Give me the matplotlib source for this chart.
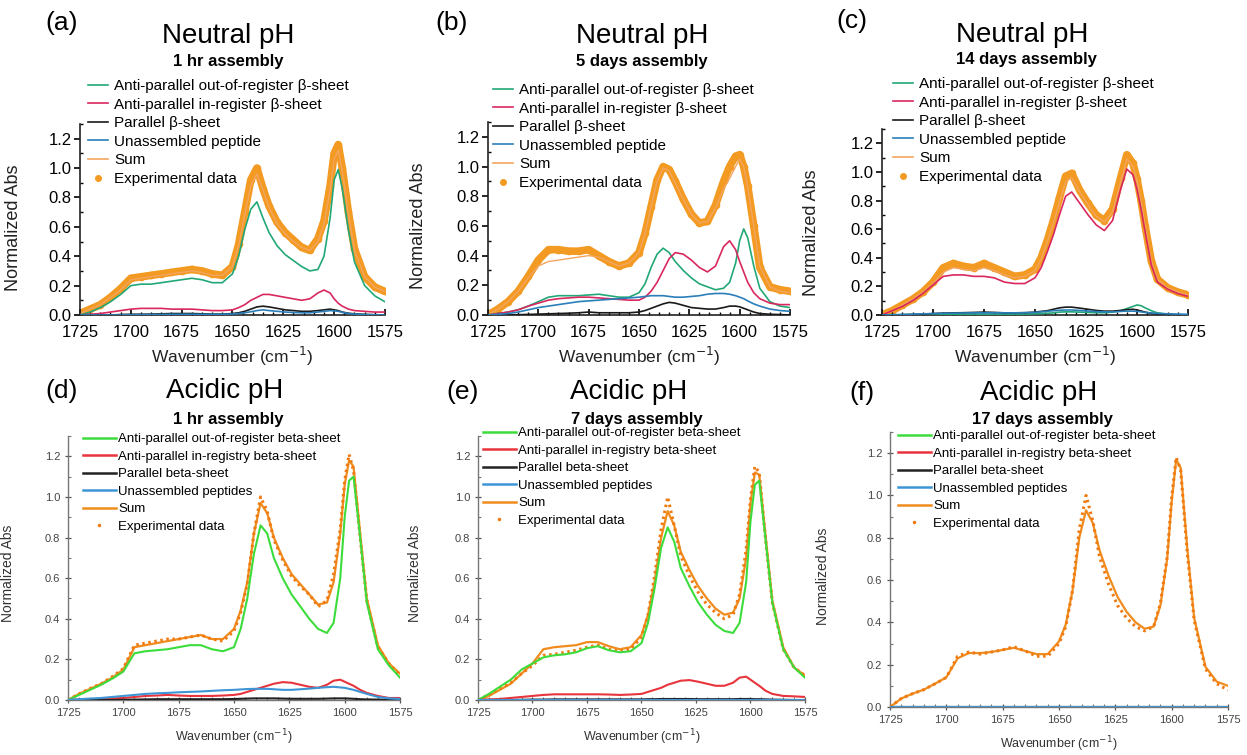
import matplotlib
matplotlib.use('Agg')
import matplotlib.pyplot as plt
from matplotlib.ticker import MultipleLocator
from matplotlib.lines import Line2D

plt.rcParams['font.family'] = ['Liberation Sans', 'DejaVu Sans']

# wavenumber grid (cm^-1) shared by all panels
wn = [1725, 1720, 1715, 1710, 1705, 1700, 1695, 1690, 1685, 1680, 1675, 1670,
      1665, 1660, 1655, 1650, 1647, 1644, 1641, 1638, 1635, 1632, 1628, 1624,
      1620, 1616, 1612, 1608, 1605, 1602, 1600, 1598, 1596, 1593, 1590, 1585,
      1580, 1575]

# (a) neutral, 1 hr
exp_a = [0.01, 0.04, 0.07, 0.12, 0.18, 0.25, 0.26, 0.27, 0.28, 0.29, 0.30, 0.31,
         0.30, 0.28, 0.27, 0.33, 0.48, 0.70, 0.92, 1.00, 0.86, 0.74, 0.63, 0.56,
         0.51, 0.46, 0.44, 0.52, 0.64, 0.88, 1.10, 1.16, 1.00, 0.70, 0.45, 0.26,
         0.19, 0.16]
sum_a = [0.01, 0.04, 0.07, 0.12, 0.17, 0.24, 0.25, 0.26, 0.27, 0.28, 0.29, 0.30,
         0.29, 0.27, 0.27, 0.33, 0.47, 0.68, 0.88, 0.96, 0.85, 0.73, 0.62, 0.55,
         0.50, 0.46, 0.44, 0.50, 0.62, 0.85, 1.06, 1.12, 0.98, 0.69, 0.44, 0.26,
         0.19, 0.16]
green_a = [0.00, 0.02, 0.05, 0.09, 0.14, 0.20, 0.21, 0.21, 0.22, 0.23, 0.24, 0.25,
           0.24, 0.22, 0.22, 0.28, 0.40, 0.58, 0.72, 0.77, 0.66, 0.56, 0.47, 0.41,
           0.37, 0.33, 0.30, 0.31, 0.40, 0.66, 0.92, 0.99, 0.86, 0.58, 0.36, 0.20,
           0.13, 0.09]
red_a = [0.00, 0.005, 0.01, 0.02, 0.03, 0.04, 0.045, 0.045, 0.045, 0.04, 0.04, 0.04,
         0.035, 0.03, 0.03, 0.035, 0.05, 0.07, 0.10, 0.12, 0.14, 0.14, 0.13, 0.12,
         0.11, 0.10, 0.11, 0.15, 0.17, 0.15, 0.11, 0.08, 0.06, 0.04, 0.03, 0.025,
         0.02, 0.02]
black_a = [0.0, 0.0, 0.0, 0.0, 0.003, 0.005, 0.005, 0.006, 0.008, 0.01, 0.01, 0.01,
           0.008, 0.006, 0.006, 0.01, 0.015, 0.025, 0.04, 0.055, 0.06, 0.055, 0.045, 0.035,
           0.03, 0.025, 0.025, 0.03, 0.035, 0.04, 0.035, 0.03, 0.02, 0.012, 0.008, 0.004,
           0.002, 0.0]
blue_a = [0.0, 0.0, 0.0, 0.0, 0.0, 0.002, 0.003, 0.004, 0.004, 0.005, 0.005, 0.005,
          0.005, 0.005, 0.005, 0.007, 0.01, 0.015, 0.022, 0.03, 0.035, 0.03, 0.025, 0.02,
          0.017, 0.015, 0.015, 0.02, 0.025, 0.03, 0.028, 0.025, 0.018, 0.01, 0.006, 0.003,
          0.001, 0.0]

# (b) neutral, 5 days
exp_b = [0.00, 0.04, 0.09, 0.16, 0.26, 0.37, 0.44, 0.44, 0.43, 0.43, 0.44, 0.40,
         0.36, 0.33, 0.35, 0.42, 0.55, 0.73, 0.91, 1.00, 0.98, 0.90, 0.78, 0.68,
         0.62, 0.63, 0.74, 0.90, 1.00, 1.07, 1.08, 1.00, 0.87, 0.60, 0.32, 0.19,
         0.17, 0.16]
sum_b = [0.00, 0.04, 0.09, 0.16, 0.25, 0.33, 0.36, 0.37, 0.38, 0.39, 0.40, 0.39,
         0.36, 0.33, 0.35, 0.42, 0.55, 0.73, 0.90, 0.99, 0.97, 0.89, 0.78, 0.68,
         0.62, 0.63, 0.72, 0.85, 0.92, 1.00, 1.05, 1.00, 0.86, 0.60, 0.33, 0.19,
         0.16, 0.15]
green_b = [0.00, 0.01, 0.02, 0.035, 0.06, 0.09, 0.12, 0.13, 0.13, 0.13, 0.135, 0.14,
           0.13, 0.12, 0.12, 0.15, 0.21, 0.32, 0.41, 0.45, 0.42, 0.36, 0.30, 0.25,
           0.21, 0.19, 0.17, 0.18, 0.22, 0.35, 0.50, 0.58, 0.52, 0.33, 0.18, 0.09,
           0.06, 0.05]
red_b = [0.00, 0.01, 0.02, 0.035, 0.06, 0.08, 0.10, 0.11, 0.115, 0.12, 0.12, 0.115,
         0.11, 0.105, 0.10, 0.10, 0.12, 0.16, 0.22, 0.30, 0.38, 0.42, 0.41, 0.37,
         0.32, 0.29, 0.33, 0.46, 0.50, 0.44, 0.36, 0.29, 0.22, 0.15, 0.11, 0.08,
         0.07, 0.07]
black_b = [0.0, 0.0, 0.0, 0.002, 0.004, 0.006, 0.008, 0.01, 0.012, 0.015, 0.02, 0.015,
           0.015, 0.015, 0.015, 0.02, 0.03, 0.045, 0.06, 0.075, 0.085, 0.08, 0.065, 0.05,
           0.045, 0.04, 0.04, 0.05, 0.06, 0.06, 0.055, 0.045, 0.035, 0.02, 0.01, 0.005,
           0.003, 0.0]
blue_b = [0.00, 0.005, 0.01, 0.02, 0.035, 0.05, 0.06, 0.07, 0.08, 0.09, 0.095, 0.10,
          0.105, 0.11, 0.115, 0.12, 0.125, 0.13, 0.13, 0.13, 0.125, 0.12, 0.12, 0.125,
          0.13, 0.14, 0.145, 0.145, 0.14, 0.13, 0.12, 0.11, 0.095, 0.075, 0.06, 0.04,
          0.03, 0.025]

# (c) neutral, 14 days
exp_c = [0.00, 0.03, 0.07, 0.11, 0.16, 0.23, 0.33, 0.36, 0.34, 0.33, 0.36, 0.33,
         0.30, 0.27, 0.28, 0.32, 0.40, 0.52, 0.66, 0.82, 0.97, 0.99, 0.87, 0.78,
         0.70, 0.66, 0.74, 0.96, 1.12, 1.06, 0.95, 0.80, 0.62, 0.38, 0.25, 0.19,
         0.16, 0.14]
sum_c = [0.00, 0.03, 0.07, 0.11, 0.16, 0.22, 0.30, 0.33, 0.32, 0.31, 0.33, 0.31,
         0.28, 0.26, 0.27, 0.31, 0.39, 0.51, 0.64, 0.79, 0.93, 0.96, 0.86, 0.77,
         0.69, 0.65, 0.72, 0.93, 1.09, 1.04, 0.94, 0.79, 0.62, 0.38, 0.25, 0.19,
         0.16, 0.14]
green_c = [0.0, 0.0, 0.0, 0.0, 0.002, 0.004, 0.005, 0.006, 0.006, 0.006, 0.006, 0.006,
           0.006, 0.006, 0.006, 0.008, 0.01, 0.012, 0.015, 0.02, 0.022, 0.022, 0.02, 0.018,
           0.016, 0.016, 0.02, 0.03, 0.045, 0.06, 0.07, 0.065, 0.05, 0.03, 0.015, 0.006,
           0.003, 0.0]
red_c = [0.00, 0.03, 0.06, 0.10, 0.15, 0.21, 0.27, 0.28, 0.28, 0.27, 0.27, 0.26,
         0.23, 0.22, 0.22, 0.26, 0.33, 0.44, 0.56, 0.70, 0.83, 0.86, 0.78, 0.70,
         0.63, 0.59, 0.66, 0.88, 1.02, 0.98, 0.88, 0.74, 0.58, 0.35, 0.23, 0.18,
         0.15, 0.13]
black_c = [0.0, 0.0, 0.002, 0.004, 0.006, 0.01, 0.013, 0.015, 0.016, 0.018, 0.02, 0.018,
           0.015, 0.015, 0.016, 0.02, 0.025, 0.03, 0.04, 0.05, 0.055, 0.055, 0.048, 0.04,
           0.032, 0.027, 0.027, 0.032, 0.037, 0.04, 0.035, 0.028, 0.02, 0.012, 0.007, 0.003,
           0.001, 0.0]
blue_c = [0.0, 0.002, 0.004, 0.006, 0.008, 0.01, 0.012, 0.013, 0.014, 0.015, 0.015, 0.015,
          0.015, 0.015, 0.016, 0.018, 0.022, 0.026, 0.03, 0.033, 0.035, 0.035, 0.032, 0.028,
          0.024, 0.022, 0.022, 0.025, 0.027, 0.027, 0.025, 0.022, 0.018, 0.014, 0.011, 0.008,
          0.006, 0.005]

# (d) acidic, 1 hr
exp_d = [0.00, 0.03, 0.057, 0.08, 0.115, 0.155, 0.27, 0.28, 0.29, 0.30, 0.30, 0.31,
         0.32, 0.30, 0.29, 0.34, 0.43, 0.57, 0.82, 1.00, 0.93, 0.79, 0.69, 0.61,
         0.56, 0.52, 0.46, 0.49, 0.62, 0.84, 1.08, 1.21, 1.13, 0.80, 0.49, 0.26,
         0.18, 0.12]
sum_d = [0.00, 0.03, 0.055, 0.08, 0.11, 0.15, 0.26, 0.27, 0.28, 0.29, 0.30, 0.31,
         0.32, 0.30, 0.30, 0.35, 0.44, 0.58, 0.82, 0.97, 0.92, 0.80, 0.70, 0.62,
         0.57, 0.52, 0.47, 0.48, 0.58, 0.82, 1.06, 1.18, 1.15, 0.82, 0.50, 0.27,
         0.18, 0.13]
green_d = [0.00, 0.025, 0.05, 0.075, 0.105, 0.14, 0.23, 0.24, 0.245, 0.25, 0.26, 0.27,
           0.27, 0.25, 0.24, 0.26, 0.35, 0.50, 0.72, 0.86, 0.82, 0.70, 0.60, 0.52,
           0.46, 0.40, 0.35, 0.33, 0.38, 0.60, 0.90, 1.08, 1.10, 0.80, 0.48, 0.25,
           0.17, 0.11]
red_d = [0.00, 0.002, 0.003, 0.005, 0.008, 0.01, 0.015, 0.02, 0.022, 0.025, 0.022, 0.02,
         0.02, 0.02, 0.022, 0.025, 0.03, 0.04, 0.05, 0.06, 0.07, 0.08, 0.088, 0.085,
         0.075, 0.065, 0.06, 0.075, 0.095, 0.10, 0.09, 0.08, 0.07, 0.05, 0.035, 0.02,
         0.01, 0.01]
black_d = [0.0, 0.0, 0.0, 0.0, 0.0, 0.001, 0.002, 0.003, 0.004, 0.004, 0.004, 0.004,
           0.004, 0.004, 0.004, 0.005, 0.006, 0.007, 0.008, 0.008, 0.008, 0.008, 0.007, 0.006,
           0.006, 0.006, 0.006, 0.007, 0.008, 0.008, 0.008, 0.007, 0.006, 0.004, 0.003, 0.002,
           0.001, 0.0]
blue_d = [0.00, 0.004, 0.007, 0.01, 0.015, 0.02, 0.025, 0.03, 0.033, 0.035, 0.038, 0.04,
          0.042, 0.045, 0.048, 0.05, 0.052, 0.054, 0.055, 0.055, 0.055, 0.053, 0.05, 0.05,
          0.053, 0.056, 0.06, 0.063, 0.065, 0.062, 0.06, 0.055, 0.05, 0.04, 0.03, 0.015,
          0.008, 0.005]

# (e) acidic, 7 days
exp_e = [0.00, 0.025, 0.055, 0.085, 0.13, 0.17, 0.22, 0.225, 0.235, 0.245, 0.26, 0.27,
         0.25, 0.24, 0.25, 0.31, 0.42, 0.61, 0.84, 1.00, 0.86, 0.71, 0.61, 0.53,
         0.47, 0.43, 0.40, 0.42, 0.52, 0.74, 0.99, 1.15, 1.12, 0.78, 0.48, 0.25,
         0.16, 0.12]
sum_e = [0.00, 0.02, 0.05, 0.08, 0.13, 0.18, 0.25, 0.26, 0.265, 0.27, 0.285, 0.285,
         0.265, 0.25, 0.26, 0.32, 0.42, 0.58, 0.80, 0.93, 0.86, 0.73, 0.64, 0.56,
         0.50, 0.45, 0.42, 0.43, 0.50, 0.70, 0.97, 1.12, 1.11, 0.80, 0.49, 0.26,
         0.16, 0.12]
green_e = [0.00, 0.03, 0.065, 0.10, 0.15, 0.18, 0.21, 0.22, 0.225, 0.235, 0.255, 0.265,
           0.245, 0.235, 0.24, 0.28, 0.38, 0.55, 0.75, 0.85, 0.78, 0.65, 0.56, 0.48,
           0.42, 0.37, 0.34, 0.33, 0.38, 0.58, 0.88, 1.06, 1.08, 0.78, 0.48, 0.25,
           0.16, 0.11]
red_e = [0.00, 0.003, 0.005, 0.01, 0.015, 0.02, 0.025, 0.028, 0.028, 0.028, 0.028, 0.028,
         0.027, 0.025, 0.027, 0.03, 0.04, 0.05, 0.06, 0.075, 0.085, 0.095, 0.098, 0.09,
         0.08, 0.07, 0.07, 0.085, 0.11, 0.115, 0.10, 0.085, 0.07, 0.045, 0.03, 0.02,
         0.018, 0.015]
black_e = [0.0, 0.0, 0.0, 0.0, 0.001, 0.002, 0.002, 0.003, 0.003, 0.003, 0.003, 0.003,
           0.003, 0.003, 0.003, 0.003, 0.004, 0.004, 0.005, 0.005, 0.005, 0.005, 0.005, 0.004,
           0.004, 0.004, 0.004, 0.004, 0.005, 0.005, 0.005, 0.004, 0.004, 0.003, 0.002, 0.001,
           0.0, 0.0]
blue_e = [0.0, 0.0, 0.0, 0.0, 0.0, 0.0, 0.0, 0.0, 0.0, 0.0, 0.0, 0.0,
          0.0, 0.0, 0.0, 0.0, 0.0, 0.0, 0.0, 0.0, 0.0, 0.0, 0.0, 0.0,
          0.0, 0.0, 0.0, 0.0, 0.0, 0.0, 0.0, 0.0, 0.0, 0.0, 0.0, 0.0,
          0.0, 0.0]

# (f) acidic, 17 days
exp_f = [0.00, 0.04, 0.063, 0.082, 0.11, 0.14, 0.24, 0.26, 0.25, 0.26, 0.27, 0.285,
         0.265, 0.24, 0.24, 0.30, 0.38, 0.55, 0.84, 1.00, 0.88, 0.71, 0.58, 0.48,
         0.42, 0.38, 0.36, 0.38, 0.49, 0.71, 0.99, 1.18, 1.12, 0.72, 0.41, 0.18,
         0.11, 0.08]
sum_f = [0.00, 0.04, 0.063, 0.082, 0.11, 0.14, 0.23, 0.255, 0.255, 0.26, 0.27, 0.28,
         0.265, 0.25, 0.25, 0.31, 0.39, 0.55, 0.80, 0.93, 0.87, 0.74, 0.62, 0.52,
         0.45, 0.40, 0.37, 0.38, 0.48, 0.70, 0.97, 1.17, 1.13, 0.74, 0.42, 0.19,
         0.12, 0.10]
green_f = [0.0, 0.0, 0.0, 0.0, 0.0, 0.0, 0.0, 0.0, 0.0, 0.0, 0.0, 0.0,
           0.0, 0.0, 0.0, 0.0, 0.0, 0.0, 0.0, 0.0, 0.0, 0.0, 0.0, 0.0,
           0.0, 0.0, 0.0, 0.0, 0.0, 0.0, 0.0, 0.0, 0.0, 0.0, 0.0, 0.0,
           0.0, 0.0]
red_f = [0.0, 0.0, 0.0, 0.0, 0.0, 0.0, 0.0, 0.0, 0.0, 0.0, 0.0, 0.0,
         0.0, 0.0, 0.0, 0.0, 0.0, 0.0, 0.0, 0.0, 0.0, 0.0, 0.0, 0.0,
         0.0, 0.0, 0.0, 0.0, 0.0, 0.0, 0.0, 0.0, 0.0, 0.0, 0.0, 0.0,
         0.0, 0.0]
black_f = [0.0, 0.0, 0.0, 0.0, 0.0, 0.0, 0.0, 0.0, 0.0, 0.0, 0.0, 0.0,
           0.0, 0.0, 0.0, 0.0, 0.0, 0.0, 0.0, 0.0, 0.0, 0.0, 0.0, 0.0,
           0.0, 0.0, 0.0, 0.0, 0.0, 0.0, 0.0, 0.0, 0.0, 0.0, 0.0, 0.0,
           0.0, 0.0]
blue_f = [0.0, 0.0, 0.0, 0.0, 0.0, 0.0, 0.0, 0.0, 0.0, 0.0, 0.0, 0.0,
          0.0, 0.0, 0.0, 0.0, 0.0, 0.0, 0.0, 0.0, 0.0, 0.0, 0.0, 0.0,
          0.0, 0.0, 0.0, 0.0, 0.0, 0.0, 0.0, 0.0, 0.0, 0.0, 0.0, 0.0,
          0.0, 0.0]

labels_top = ['Anti-parallel out-of-register β-sheet', 'Anti-parallel in-register β-sheet',
              'Parallel β-sheet', 'Unassembled peptide', 'Sum', 'Experimental data']
labels_bot = ['Anti-parallel out-of-register beta-sheet', 'Anti-parallel in-registry beta-sheet',
              'Parallel beta-sheet', 'Unassembled peptides', 'Sum', 'Experimental data']

W, H = 1247, 755
fig = plt.figure(figsize=(W / 100, H / 100), dpi=100)

# panel boxes in pixels: left, right, top(ymax=1.3), y0
panels = [
    dict(box=(80, 385, 124, 315), tag='(a)', tagxy=(62, 30), title='Neutral pH', tx=228, ty=43,
         sub='1 hr assembly', sx=228, sy=66, leg=(88, 79), ylab=(22, 228), xlab=345,
         data=(green_a, red_a, black_a, blue_a, sum_a, exp_a), top=True),
    dict(box=(488, 790, 122, 315), tag='(b)', tagxy=(452, 30), title='Neutral pH', tx=642, ty=43,
         sub='5 days assembly', sx=642, sy=66, leg=(493, 83), ylab=(427, 226), xlab=345,
         data=(green_b, red_b, black_b, blue_b, sum_b, exp_b), top=True),
    dict(box=(882, 1188, 129, 315), tag='(c)', tagxy=(852, 28), title='Neutral pH', tx=1022, ty=42,
         sub='14 days assembly', sx=1026, sy=64, leg=(893, 77), ylab=(820, 233), xlab=345,
         data=(green_c, red_c, black_c, blue_c, sum_c, exp_c), top=True),
    dict(box=(68, 400, 436, 700), tag='(d)', tagxy=(62, 398), title='Acidic pH', tx=225, ty=398,
         sub='1 hr assembly', sx=228, sy=424, leg=(83, 433), ylab=(15, 573), xlab=727,
         data=(green_d, red_d, black_d, blue_d, sum_d, exp_d), top=False),
    dict(box=(478, 805, 436, 700), tag='(e)', tagxy=(463, 399), title='Acidic pH', tx=629, ty=399,
         sub='7 days assembly', sx=637, sy=424, leg=(483, 427), ylab=(422, 573), xlab=727,
         data=(green_e, red_e, black_e, blue_e, sum_e, exp_e), top=False),
    dict(box=(890, 1228, 432, 707), tag='(f)', tagxy=(862, 400), title='Acidic pH', tx=1039, ty=400,
         sub='17 days assembly', sx=1042, sy=424, leg=(898, 430), ylab=(830, 576), xlab=734,
         data=(green_f, red_f, black_f, blue_f, sum_f, exp_f), top=False),
]

top_colors = ['#22a876', '#d8285e', '#1a1a1a', '#2a7fba', '#f3a560', '#f39a22']
bot_colors = ['#3ddc3d', '#e8343c', '#222222', '#3d95d6', '#f08c1e', '#f07a10']

for p in panels:
    l, r, t, b = p['box']
    ax = fig.add_axes([l / W, 1 - b / H, (r - l) / W, (b - t) / H])
    green, red, black, blue, tot, exp = p['data']
    top = p['top']
    c = top_colors if top else bot_colors

    if top:
        ax.plot(wn, exp, color=c[5], lw=5.5, marker='o', ms=4.5, solid_capstyle='round', zorder=1)
        ax.plot(wn, tot, color=c[4], lw=1.0, zorder=2)
        lw = 1.2
    else:
        ax.plot(wn, tot, color=c[4], lw=1.6, zorder=2)
        ax.plot(wn, exp, color=c[5], lw=2.2, ls=(0, (0.8, 1.2)), zorder=3)
        lw = 1.5
    ax.plot(wn, green, color=c[0], lw=lw, zorder=4)
    ax.plot(wn, red, color=c[1], lw=lw, zorder=4)
    ax.plot(wn, black, color=c[2], lw=lw, zorder=4)
    ax.plot(wn, blue, color=c[3], lw=lw, zorder=4)

    ax.set_xlim(1725, 1575)
    ax.set_ylim(0, 1.3)
    ax.xaxis.set_major_locator(MultipleLocator(25))
    ax.xaxis.set_minor_locator(MultipleLocator(5))
    ax.yaxis.set_major_locator(MultipleLocator(0.2))
    ax.yaxis.set_minor_locator(MultipleLocator(0.1))
    ax.yaxis.set_major_formatter(lambda v, pos: f'{v:.1f}')
    for s in ('top', 'right'):
        ax.spines[s].set_visible(False)
    ax.patch.set_alpha(0)

    spine_c = '#222222' if top else '#777777'
    for s in ('left', 'bottom'):
        ax.spines[s].set_color(spine_c)
        ax.spines[s].set_linewidth(1.2 if top else 1.0)
    if top:
        ax.tick_params(axis='x', which='major', direction='in', length=4, width=1.2, labelsize=12, pad=7)
        ax.tick_params(axis='x', which='minor', direction='in', length=2.5, width=1)
        ax.tick_params(axis='y', which='major', direction='out', length=4, width=1.2, labelsize=12, pad=2)
        ax.tick_params(axis='y', which='minor', direction='in', length=2.5, width=1)
        lab_fs_y, lab_fs_x = 13, 12.5
    else:
        ax.tick_params(axis='both', which='major', direction='inout', length=5, width=0.9,
                       labelsize=8, colors='#555555', labelcolor='#444444', pad=3)
        ax.tick_params(axis='both', which='minor', direction='in', length=2.5, width=0.8, colors='#777777')
        lab_fs_y, lab_fs_x = 10, 9

    ax.set_ylabel('Normalized Abs', fontsize=lab_fs_y, color='#222222' if top else '#333333')
    ax.set_xlabel('Wavenumber (cm$^{-1}$)', fontsize=lab_fs_x, color='#222222' if top else '#333333')
    yx, yy = p['ylab']
    ax.yaxis.set_label_coords((yx - l) / (r - l), (b - yy) / (b - t))
    ax.xaxis.set_label_coords(0.5, (b - p['xlab']) / (b - t))

    # titles
    fig.text(p['tagxy'][0] / W, 1 - p['tagxy'][1] / H, p['tag'], fontsize=19, ha='center', va='baseline')
    fig.text(p['tx'] / W, 1 - p['ty'] / H, p['title'], fontsize=20, ha='center', va='baseline')
    fig.text(p['sx'] / W, 1 - p['sy'] / H, p['sub'], fontsize=12, fontweight='bold',
             ha='center', va='baseline')

    # legend
    if top:
        handles = [Line2D([], [], color=c[i], lw=1.2) for i in range(5)]
        handles.append(Line2D([], [], color=c[5], ls='none', marker='o', ms=4))
        leg_kw = dict(fontsize=11, handlelength=1.3, handletextpad=0.4, labelspacing=0.3)
        labs = labels_top
    else:
        handles = [Line2D([], [], color=c[i], lw=1.8) for i in range(5)]
        handles.append(Line2D([], [], color=c[5], ls='none', marker='.', ms=3))
        leg_kw = dict(fontsize=9.5, handlelength=2.5, handletextpad=0.15, labelspacing=0.4)
        labs = labels_bot
    lx, ly = p['leg']
    ax.legend(handles, labs, loc='upper left', bbox_to_anchor=(lx / W, 1 - ly / H),
              bbox_transform=fig.transFigure, frameon=False, borderpad=0, borderaxespad=0,
              **leg_kw)

fig.savefig('out.png', dpi=100)
